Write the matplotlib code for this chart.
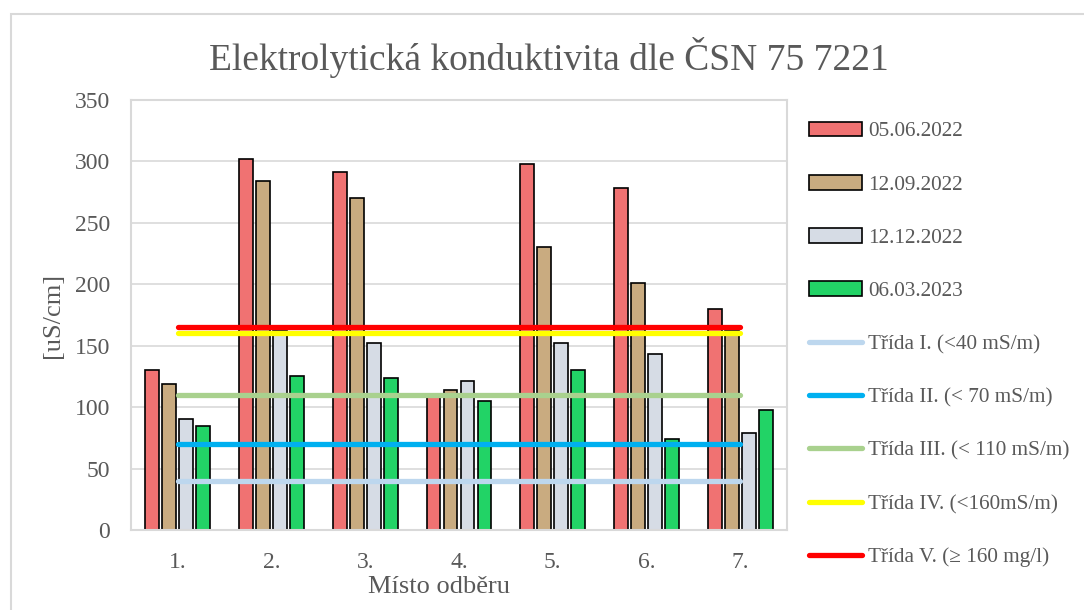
import matplotlib
matplotlib.use("Agg")
import matplotlib.pyplot as plt
from matplotlib.patches import Rectangle
import numpy as np

plt.rcParams['font.family'] = ['Liberation Serif', 'DejaVu Serif']

categories = ["1.", "2.", "3.", "4.", "5.", "6.", "7."]
series_names = ["05.06.2022", "12.09.2022", "12.12.2022", "06.03.2023"]
s_0506_2022 = [130, 302, 291, 108, 298, 278, 180]
s_1209_2022 = [119, 284, 270, 114, 230, 201, 162]
s_1212_2022 = [90, 162, 152, 121, 152, 143, 79]
s_0603_2023 = [85, 125, 124, 105, 130, 74, 98]
series_values = [s_0506_2022, s_1209_2022, s_1212_2022, s_0603_2023]
bar_colors = ["#F07272", "#C9AB80", "#D6DCE5", "#22D366"]

class_names = ["Třída I. (<40 mS/m)", "Třída II. (< 70 mS/m)", "Třída III. (< 110 mS/m)",
               "Třída IV. (<160mS/m)", "Třída V. (≥ 160 mg/l)"]
class_limits = [40, 70, 110, 160, 165]
class_colors = ["#BDD7EE", "#00B0F0", "#A9D18E", "#FFFF00", "#FF0000"]

TXT = "#595959"
GRID = "#D9D9D9"

fig = plt.figure(figsize=(10.84, 6.10), dpi=100)
fig.patches.append(Rectangle((11/1084, -0.1), 1.2, (610-14)/610 + 0.1, transform=fig.transFigure,
                             fill=False, edgecolor=GRID, linewidth=1.5))
ax = fig.add_axes([131/1084, 80/610, 656/1084, 430/610])

x = np.arange(len(categories))
stride = 0.181
width = 0.148
handles = []
for i, (vals, col, name) in enumerate(zip(series_values, bar_colors, series_names)):
    b = ax.bar(x + (i - 1.5) * stride, vals, width, color=col, edgecolor="black",
               linewidth=1.2, label=name, zorder=2)
    handles.append(b)
for lim, col, name in zip(class_limits, class_colors, class_names):
    ln, = ax.plot(x, [lim] * len(x), color=col, linewidth=3.8, solid_capstyle="round",
                  label=name, zorder=3)
    handles.append(ln)

ax.set_xlim(-0.5, 6.5)
ax.set_ylim(0, 350)
ax.set_yticks(range(0, 351, 50))
ax.set_xticks(x)
ax.set_xticklabels(categories)
ax.grid(axis="y", color=GRID, linewidth=1.2, zorder=0)
ax.set_axisbelow(True)
for s in ax.spines.values():
    s.set_color(GRID)
    s.set_linewidth(1.5)
ax.tick_params(axis="both", length=0, colors=TXT, labelsize=17)
ax.tick_params(axis="y", pad=15)
ax.tick_params(axis="x", pad=16)

ax.set_ylabel("[uS/cm]", color=TXT, fontsize=19)
ax.yaxis.set_label_coords(-(131 - 53) / 656, 0.5)
ax.set_xlabel("Místo odběru", color=TXT, fontsize=19)
ax.xaxis.set_label_coords((439 - 131) / 656, -(587 - 530) / 430)
ax.xaxis.label.set_va("center")
ax.yaxis.label.set_va("center")

fig.text(549/1084, 1 - 58/610, "Elektrolytická konduktivita dle ČSN 75 7221", ha="center",
         va="center", fontsize=27, color=TXT)

leg = fig.legend(handles=handles, loc="upper left", bbox_to_anchor=(800/1084, 1 - 113/610),
                 frameon=False, fontsize=15.3, labelcolor=TXT, handlelength=2.5,
                 handletextpad=0.3, labelspacing=1.57, borderaxespad=0)

fig.savefig("out.png", dpi=100)
